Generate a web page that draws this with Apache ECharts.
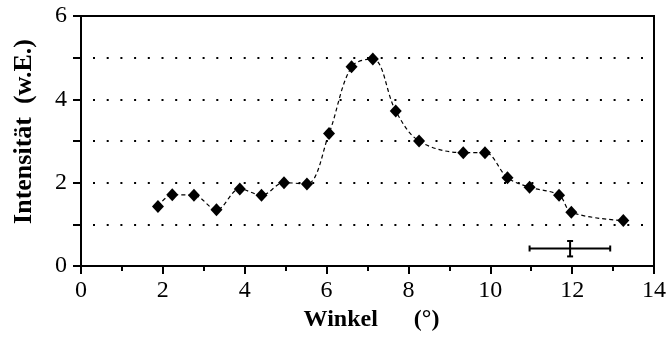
<!DOCTYPE html>
<html>
<head>
<meta charset="utf-8">
<script src="https://cdn.jsdelivr.net/npm/echarts@6/dist/echarts.min.js"></script>
<style>
html,body{margin:0;padding:0;background:#fff;}
#chart{width:669px;height:338px;}
</style>
</head>
<body>
<div id="chart"></div>
<script>
// Data
const winkel = [1.88, 2.23, 2.76, 3.31, 3.88, 4.41, 4.96, 5.52, 6.06, 6.61, 7.13, 7.69, 8.26, 9.34, 9.87, 10.42, 10.96, 11.68, 11.98, 13.25];
const intensitaet = [1.43, 1.71, 1.70, 1.35, 1.85, 1.70, 2.00, 1.97, 3.18, 4.78, 4.97, 3.72, 3.00, 2.72, 2.72, 2.12, 1.89, 1.70, 1.29, 1.09];
// Error bar: [x, y, xLow, xHigh, yLow, yHigh]
const errorBar = [[11.95, 0.42, 10.96, 12.93, 0.23, 0.60]];
const xTicks = [0, 2, 4, 6, 8, 10, 12, 14];
const yTicks = [0, 2, 4, 6];

const points = winkel.map((x, i) => [x, intensitaet[i]]);
const serif = '"Liberation Serif", "Times New Roman", serif';

const chart = echarts.init(document.getElementById('chart'), null, {renderer: 'canvas'});
chart.setOption({
  animation: false,
  backgroundColor: '#fff',
  grid: {left: 81, right: 14, top: 16, bottom: 72, show: true, borderColor: '#000', borderWidth: 2, backgroundColor: 'transparent'},
  xAxis: {
    type: 'value', min: 0, max: 14, interval: 2,
    name: 'Winkel      (°)', nameLocation: 'middle', nameGap: 39,
    nameTextStyle: {fontFamily: serif, fontWeight: 'bold', fontSize: 24, color: '#000', padding: [0, 0, 0, 8]},
    axisLine: {show: true, lineStyle: {color: '#000', width: 2}},
    axisTick: {show: true, inside: false, length: 8, lineStyle: {color: '#000', width: 2}},
    minorTick: {show: true, splitNumber: 2, length: 5, lineStyle: {color: '#000', width: 2}},
    axisLabel: {fontFamily: serif, fontSize: 24, color: '#000', margin: 13,
      formatter: v => xTicks.includes(v) ? String(v) : ''},
    splitLine: {show: false}
  },
  yAxis: {
    type: 'value', min: 0, max: 6, interval: 1,
    name: 'Intensität  (w.E.)', nameLocation: 'middle', nameGap: 44,
    nameTextStyle: {fontFamily: serif, fontWeight: 'bold', fontSize: 26, color: '#000', padding: [0, 0, 0, 19]},
    axisLine: {show: true, lineStyle: {color: '#000', width: 2}},
    axisTick: {show: true, inside: false, length: 8, lineStyle: {color: '#000', width: 2}},
    axisLabel: {fontFamily: serif, fontSize: 24, color: '#000', margin: 14,
      formatter: v => yTicks.includes(v) ? String(v) : ''},
    splitLine: {show: true, lineStyle: {color: '#000', width: 2, type: [2, 11.7], dashOffset: -12}}
  },
  series: [
    {
      type: 'line', data: points, smooth: 0.35,
      symbol: 'diamond', symbolSize: [12, 13],
      itemStyle: {color: '#000'},
      lineStyle: {color: '#000', width: 1.2, type: [4, 3]},
      z: 3
    },
    {
      type: 'custom', data: errorBar,
      renderItem: function (params, api) {
        const c = api.coord([api.value(0), api.value(1)]);
        const xl = api.coord([api.value(2), api.value(1)]);
        const xh = api.coord([api.value(3), api.value(1)]);
        const yl = api.coord([api.value(0), api.value(4)]);
        const yh = api.coord([api.value(0), api.value(5)]);
        const st = {stroke: '#000', lineWidth: 2};
        const cap = 3;
        return {type: 'group', children: [
          {type: 'line', shape: {x1: xl[0], y1: c[1], x2: xh[0], y2: c[1]}, style: st},
          {type: 'line', shape: {x1: xl[0], y1: c[1] - cap, x2: xl[0], y2: c[1] + cap}, style: st},
          {type: 'line', shape: {x1: xh[0], y1: c[1] - cap, x2: xh[0], y2: c[1] + cap}, style: st},
          {type: 'line', shape: {x1: c[0], y1: yl[1], x2: c[0], y2: yh[1]}, style: st},
          {type: 'line', shape: {x1: c[0] - cap, y1: yl[1], x2: c[0] + cap, y2: yl[1]}, style: st},
          {type: 'line', shape: {x1: c[0] - cap, y1: yh[1], x2: c[0] + cap, y2: yh[1]}, style: st}
        ]};
      },
      z: 4
    }
  ]
});
</script>
</body>
</html>
